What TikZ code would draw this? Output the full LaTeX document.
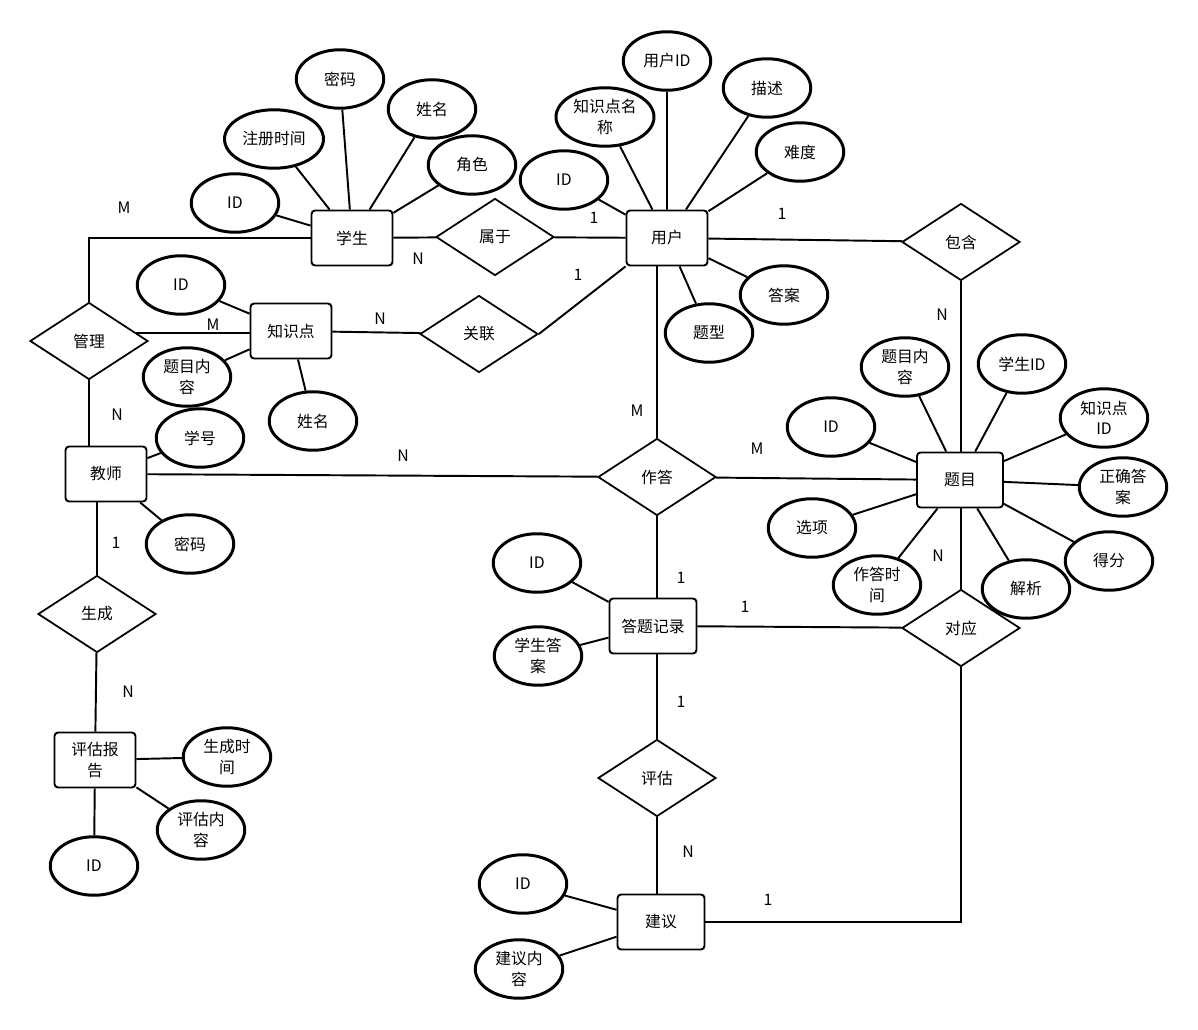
\documentclass[tikz,border=0pt]{standalone}
\usepackage{fontspec}
\newfontfamily\cjk{Noto Sans CJK SC}
\usetikzlibrary{shapes.geometric}

\begin{document}
\begin{tikzpicture}[x=0.02cm,y=-0.02cm,line width=1.1pt,
  font=\cjk\fontsize{9}{11.5}\selectfont,
  ent/.style={rectangle,draw,rounded corners=2pt,line width=1.1pt,minimum width=1.62cm,minimum height=1.1cm,align=center,inner sep=1pt},
  rel/.style={diamond,draw,line width=1pt,minimum width=2.36cm,minimum height=1.54cm,inner sep=0pt},
  attr/.style={ellipse,draw,line width=1.7pt,minimum width=1.75cm,minimum height=1.17cm,align=center,inner sep=0pt},
  card/.style={inner sep=0pt}]
\useasboundingbox (0,0) rectangle (1198,1030);

% entities
\node (stu) [ent] at (352,238) {学生};
\node (user) [ent] at (667,238) {用户};
\node (kp) [ent] at (291,331) {知识点};
\node (tea) [ent] at (106,474) {教师};
\node (ques) [ent,minimum width=1.72cm] at (960,480) {题目};
\node (rec) [ent,minimum width=1.74cm] at (653,626) {答题记录};
\node (rep) [ent] at (95,760) {评估报\\告};
\node (adv) [ent,minimum width=1.74cm] at (661,922) {建议};

% relations
\node (belong) [rel] at (495,237) {属于};
\node (link) [rel] at (479,334) {关联};
\node (manage) [rel] at (89,341) {管理};
\node (contain) [rel] at (961,242) {包含};
\node (answer) [rel] at (657,477) {作答};
\node (match) [rel] at (961,628) {对应};
\node (gen) [rel] at (97,614) {生成};
\node (eval) [rel] at (657,778) {评估};

% attributes
\node (stu1) [attr] at (235,203) {ID};
\node (stu2) [attr,minimum width=1.98cm] at (274,139) {注册时间};
\node (stu3) [attr] at (340,79) {密码};
\node (stu4) [attr] at (432,109) {姓名};
\node (stu5) [attr] at (472,165) {角色};

\node (user1) [attr,minimum width=1.96cm] at (605,117) {知识点名\\称};
\node (user2) [attr] at (667,61) {用户ID};
\node (user3) [attr] at (767,88) {描述};
\node (user4) [attr] at (800,152) {难度};
\node (user5) [attr] at (564,180) {ID};
\node (user6) [attr] at (784,295) {答案};
\node (user7) [attr] at (709,333) {题型};

\node (kp1) [attr] at (181,285) {ID};
\node (kp2) [attr] at (187,377) {题目内\\容};
\node (kp3) [attr] at (313,421) {姓名};

\node (tea1) [attr] at (200,438) {学号};
\node (tea2) [attr] at (190,544) {密码};

\node (ques1) [attr] at (905,367) {题目内\\容};
\node (ques2) [attr] at (1022,364) {学生ID};
\node (ques3) [attr] at (1104,418) {知识点\\ID};
\node (ques4) [attr] at (831,427) {ID};
\node (ques5) [attr] at (1123,487) {正确答\\案};
\node (ques6) [attr] at (812,528) {选项};
\node (ques7) [attr] at (877,585) {作答时\\间};
\node (ques8) [attr] at (1026,589) {解析};
\node (ques9) [attr] at (1109,561) {得分};

\node (rec1) [attr] at (537,563) {ID};
\node (rec2) [attr] at (538,656) {学生答\\案};

\node (rep1) [attr] at (227,757) {生成时\\间};
\node (rep2) [attr] at (201,830) {评估内\\容};
\node (rep3) [attr] at (94,866) {ID};

\node (adv1) [attr] at (523,884) {ID};
\node (adv2) [attr] at (519,969) {建议内\\容};

% relation lines
\draw (stu) -- (belong) -- (user);
\draw (stu) -| (manage);
\draw (manage.10) -- (manage.10 -| kp.west);
\draw (kp) -- (link);
\draw (link.east) -- (user.south west);
\draw (manage.south) -- (manage.south |- tea.north);
\draw (tea) -- (answer) -- (ques);
\draw (answer.north |- user.south) -- (answer.north);
\draw (user) -- (contain);
\draw (contain.south) -- (contain.south |- ques.north);
\draw (answer.south) -- (answer.south |- rec.north);
\draw (rec) -- (match);
\draw (match.north) -- (match.north |- ques.south);
\draw (eval.north |- rec.south) -- (eval.north);
\draw (eval.south) -- (eval.south |- adv.north);
\draw (match) |- (adv);
\draw (gen.north |- tea.south) -- (gen.north);
\draw (gen) -- (rep);

% attribute lines
\draw (stu) -- (stu1) (stu) -- (stu2) (stu) -- (stu3) (stu) -- (stu4) (stu) -- (stu5);
\draw (user) -- (user1) (user) -- (user2) (user) -- (user3) (user) -- (user4)
      (user) -- (user5) (user) -- (user6) (user) -- (user7);
\draw (kp) -- (kp1) (kp) -- (kp2) (kp) -- (kp3);
\draw (tea) -- (tea1) (tea) -- (tea2);
\draw (ques) -- (ques1) (ques) -- (ques2) (ques) -- (ques3) (ques) -- (ques4) (ques) -- (ques5)
      (ques) -- (ques6) (ques) -- (ques7) (ques) -- (ques8) (ques) -- (ques9);
\draw (rec) -- (rec1) (rec) -- (rec2);
\draw (rep) -- (rep1) (rep) -- (rep2) (rep) -- (rep3);
\draw (adv) -- (adv1) (adv) -- (adv2);

% cardinalities
\node (c1) [card] at (124,208) {M};
\node (c2) [card] at (418,259) {N};
\node (c3) [card] at (594,218) {1};
\node (c4) [card] at (578,275) {1};
\node (c5) [card] at (380,319) {N};
\node (c6) [card] at (213,325) {M};
\node (c7) [card] at (117,415) {N};
\node (c8) [card] at (403,456) {N};
\node (c9) [card] at (637,411) {M};
\node (c10) [card] at (782,214) {1};
\node (c11) [card] at (942,315) {N};
\node (c12) [card] at (757,449) {M};
\node (c13) [card] at (681,578) {1};
\node (c14) [card] at (745,607) {1};
\node (c15) [card] at (938,556) {N};
\node (c16) [card] at (681,702) {1};
\node (c17) [card] at (688,852) {N};
\node (c18) [card] at (768,900) {1};
\node (c19) [card] at (116,543) {1};
\node (c20) [card] at (128,692) {N};
\end{tikzpicture}
\end{document}
